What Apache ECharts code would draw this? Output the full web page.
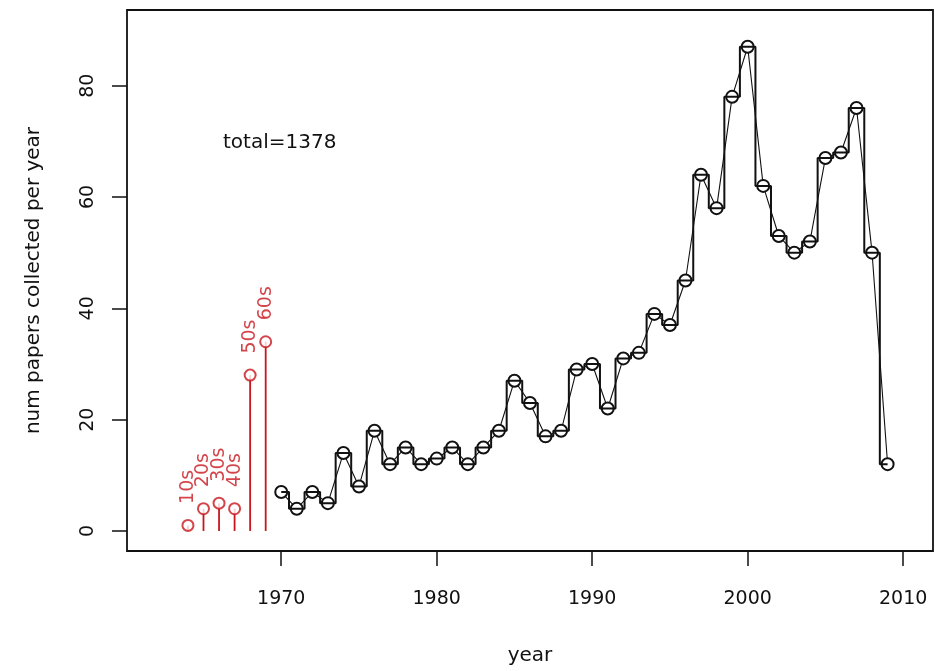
<!DOCTYPE html>
<html>
<head>
<meta charset="utf-8">
<script src="https://cdn.jsdelivr.net/npm/echarts@6/dist/echarts.min.js"></script>
<style>
  html, body { margin: 0; padding: 0; background: #ffffff; }
  #chart { width: 935px; height: 671px; }
</style>
</head>
<body>
<div id="chart"></div>
<script>
// Papers collected per year, 1970-2009
const years = [1970,1971,1972,1973,1974,1975,1976,1977,1978,1979,
               1980,1981,1982,1983,1984,1985,1986,1987,1988,1989,
               1990,1991,1992,1993,1994,1995,1996,1997,1998,1999,
               2000,2001,2002,2003,2004,2005,2006,2007,2008,2009];
const papers = [7,4,7,5,14,8,18,12,15,12,
                13,15,12,15,18,27,23,17,18,29,
                30,22,31,32,39,37,45,64,58,78,
                87,62,53,50,52,67,68,76,50,12];

// Older papers grouped by decade, drawn at 1964-1969
const decadeX = [1964,1965,1966,1967,1968,1969];
const decadeCounts = [1,4,5,4,28,34];
const decadeNames = ['10s','20s','30s','40s','50s','60s'];

// Axis ticks
const xTicks = [1970,1980,1990,2000,2010];
const yTicks = [0,20,40,60,80];

const total = papers.concat(decadeCounts).reduce((a, b) => a + b, 0);

const yearPairs = years.map((y, i) => [y, papers[i]]);
const decadePairs = decadeX.map((x, i) => [x, decadeCounts[i]]);

const FONT = "'DejaVu Sans', 'Liberation Sans', sans-serif";
const RED = '#c8161e';
const INK = '#111111';

const chart = echarts.init(document.getElementById('chart'), null, { renderer: 'canvas' });

chart.setOption({
  animation: false,
  backgroundColor: '#ffffff',
  textStyle: { fontFamily: FONT },
  grid: {
    left: 127, top: 10, right: 2, bottom: 117,
    show: true, borderColor: INK, borderWidth: 1.8, backgroundColor: 'transparent'
  },
  xAxis: {
    type: 'value',
    min: 1960.08, max: 2011.92,
    axisLine: { show: false, onZero: false },
    splitLine: { show: false },
    axisTick: { show: true, length: 15, customValues: xTicks, lineStyle: { color: INK, width: 1.5 } },
    axisLabel: {
      customValues: xTicks, margin: 39, fontSize: 19, color: INK, fontFamily: FONT,
      formatter: v => String(v)
    },
    name: 'year', nameLocation: 'middle', nameGap: 95,
    nameTextStyle: { fontSize: 20, color: INK, fontFamily: FONT }
  },
  yAxis: {
    type: 'value',
    min: -3.6, max: 93.6,
    axisLine: { show: false, onZero: false },
    splitLine: { show: false },
    axisTick: { show: true, length: 15, customValues: yTicks, lineStyle: { color: INK, width: 1.5 } },
    axisLabel: { customValues: yTicks, rotate: 90, margin: 29, fontSize: 19, color: INK, fontFamily: FONT },
    name: 'num papers collected per year', nameLocation: 'middle', nameGap: 83, nameRotate: 90,
    nameTextStyle: { fontSize: 20, color: INK, fontFamily: FONT }
  },
  graphic: [{
    type: 'text', left: 223, top: 133,
    style: { text: 'total=' + total, font: "20px 'DejaVu Sans', sans-serif", fill: INK }
  }],
  series: [
    {
      // points joined directly
      type: 'line', data: yearPairs,
      symbol: 'emptyCircle', symbolSize: 12,
      lineStyle: { color: INK, width: 1.1 },
      itemStyle: { color: INK, borderColor: INK, borderWidth: 1.4 }, z: 3
    },
    {
      // stepped outline
      type: 'line', data: yearPairs, step: 'middle',
      symbol: 'none', lineStyle: { color: INK, width: 2 }, z: 4
    },
    {
      // decade spikes
      type: 'bar', data: decadePairs, barWidth: 1.8,
      itemStyle: { color: RED }, z: 2
    },
    {
      type: 'scatter', data: decadePairs,
      symbol: 'emptyCircle', symbolSize: 11,
      itemStyle: { color: RED, borderColor: RED, borderWidth: 1.4 },
      label: {
        show: true, position: 'top', distance: 15, rotate: 90,
        align: 'left', verticalAlign: 'middle',
        fontSize: 19, color: RED, fontFamily: FONT,
        formatter: p => decadeNames[p.dataIndex]
      },
      z: 4
    }
  ]
});
</script>
</body>
</html>
